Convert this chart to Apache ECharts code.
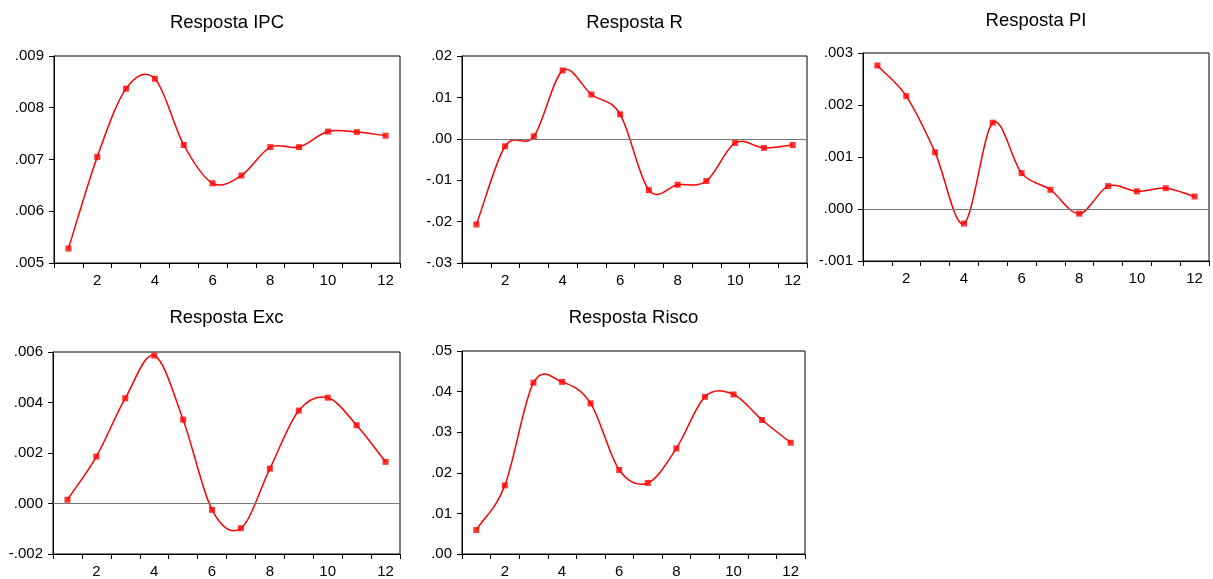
<!DOCTYPE html>
<html>
<head>
<meta charset="utf-8">
<script src="https://cdn.jsdelivr.net/npm/echarts@6/dist/echarts.min.js"></script>
<style>
html,body{margin:0;padding:0;background:#fff;}
#chart{width:1213px;height:579px;}
</style>
</head>
<body>
<div id="chart"></div>
<script>
const periods = ['1','2','3','4','5','6','7','8','9','10','11','12'];
const titles = ['Resposta IPC','Resposta R','Resposta PI','Resposta Exc','Resposta Risco'];
const respIPC = [0.00528,0.00705,0.00837,0.00856,0.00728,0.00654,0.00669,0.00724,0.00724,0.00754,0.00753,0.00746];
const respR = [-0.0207,-0.0018,0.0006,0.0165,0.0107,0.0059,-0.0124,-0.0111,-0.0102,-0.0010,-0.0022,-0.0015];
const respPI = [0.00276,0.00217,0.00109,-0.00028,0.00166,0.00069,0.00037,-0.00009,0.00044,0.00034,0.00040,0.00024];
const respExc = [0.00015,0.00186,0.00417,0.00586,0.00332,-0.00025,-0.00098,0.00138,0.00368,0.00419,0.00310,0.00165];
const respRisco = [0.0059,0.0169,0.0422,0.0424,0.0371,0.0207,0.0175,0.0260,0.0387,0.0393,0.0330,0.0274];
const yMin = [0.005,-0.03,-0.001,-0.002,0.00];
const yMax = [0.009,0.02,0.003,0.006,0.05];
const yStep = [0.001,0.01,0.001,0.002,0.01];
const yDecimals = [3,2,3,3,2];

const seriesData = [respIPC,respR,respPI,respExc,respRisco];
const grids = [
  {left:54, top:56, width:346, height:207},
  {left:462, top:56, width:345, height:207},
  {left:863, top:53, width:346, height:208},
  {left:53, top:352, width:347, height:207},
  {left:462, top:351, width:343, height:208}
];
const titleY = [23,23,21,318,318];
const font = "'Liberation Sans', Arial, sans-serif";

// cardinal (Catmull-Rom) spline segment drawn in pixel space from the axis coords
function splineRenderer(d) {
  return function (params, api) {
    const i = params.dataIndex;
    if (i >= d.length - 1) return null;
    const P = j => api.coord([Math.max(0, Math.min(d.length - 1, j)), d[Math.max(0, Math.min(d.length - 1, j))]]);
    const p0 = P(i - 1), p1 = P(i), p2 = P(i + 1), p3 = P(i + 2);
    const t1 = i === 0 ? [p2[0] - p1[0], p2[1] - p1[1]] : [(p2[0] - p0[0]) / 2, (p2[1] - p0[1]) / 2];
    const t2 = i + 1 === d.length - 1 ? [p2[0] - p1[0], p2[1] - p1[1]] : [(p3[0] - p1[0]) / 2, (p3[1] - p1[1]) / 2];
    return {
      type: 'bezierCurve',
      shape: {
        x1: p1[0], y1: p1[1], x2: p2[0], y2: p2[1],
        cpx1: p1[0] + t1[0] / 3, cpy1: p1[1] + t1[1] / 3,
        cpx2: p2[0] - t2[0] / 3, cpy2: p2[1] - t2[1] / 3
      },
      style: { stroke: '#ff0000', lineWidth: 1.5, fill: null }
    };
  };
}

const series = [];
seriesData.forEach((d, i) => {
  series.push({
    type: 'custom', xAxisIndex: i, yAxisIndex: i, silent: true,
    data: d.map((v, j) => [j, v]),
    renderItem: splineRenderer(d),
    z: 3
  });
  series.push({
    type: 'scatter', xAxisIndex: i, yAxisIndex: i, data: d,
    symbol: 'rect', symbolSize: 6, itemStyle: { color: '#ff0000' }, z: 4,
    markLine: (yMin[i] < 0) ? {
      silent: true, symbol: 'none', label: { show: false },
      lineStyle: { color: '#777', width: 1.2, type: 'solid' },
      data: [{ yAxis: 0 }]
    } : undefined
  });
});

const option = {
  animation:false,
  backgroundColor:'#fff',
  title: titles.map((t,i)=>({
    text:t, left: grids[i].left + grids[i].width/2, top: titleY[i]-10,
    textAlign:'center', padding:0,
    textStyle:{fontFamily:font,fontSize:18.5,fontWeight:'normal',color:'#000'}
  })),
  grid: grids.map(g=>Object.assign({show:true,borderColor:'#000',borderWidth:1,backgroundColor:'transparent'},g)),
  xAxis: grids.map((g,i)=>({
    type:'category', gridIndex:i, data:periods, boundaryGap:true,
    axisLine:{onZero:false, lineStyle:{color:'#000',width:1}},
    axisTick:{show:true,interval:0,length:5,lineStyle:{color:'#000'}},
    axisLabel:{interval:(idx)=>idx%2===1, color:'#000', fontFamily:font, fontSize:15, margin:10},
    splitLine:{show:false}
  })),
  yAxis: grids.map((g,i)=>({
    type:'value', gridIndex:i, min:yMin[i], max:yMax[i], interval:yStep[i],
    axisLine:{show:true,onZero:false,lineStyle:{color:'#000',width:1}},
    axisTick:{show:true,length:5,lineStyle:{color:'#000'}},
    axisLabel:{color:'#000', fontFamily:font, fontSize:15, margin:10,
      formatter:(v)=>{ let s=(Math.round(v/yStep[i])*yStep[i]).toFixed(yDecimals[i]); if(s.startsWith('-0.')) s='-'+s.slice(2); else if(s.startsWith('0.')) s=s.slice(1); return s; }},
    splitLine:{show:false}
  })),
  series: series
};
const chart = echarts.init(document.getElementById('chart'));
chart.setOption(option);
</script>
</body>
</html>
